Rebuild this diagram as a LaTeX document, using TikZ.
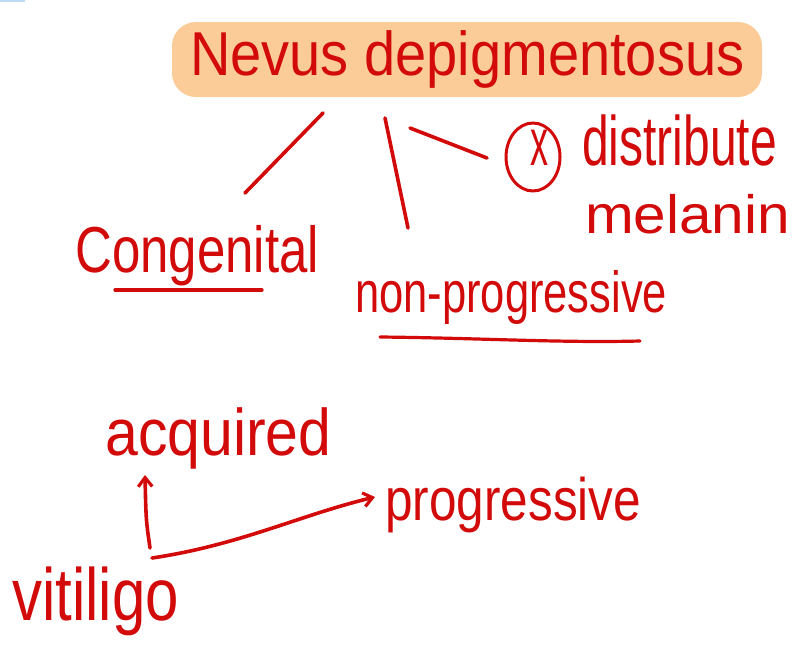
\documentclass[tikz,border=0pt]{standalone}
\usepackage{fontspec}
\setmainfont{Liberation Sans}
\usetikzlibrary{arrows.meta}
\definecolor{ink}{HTML}{D20A0A}
\definecolor{hl}{HTML}{FBCB98}
\definecolor{blueart}{HTML}{BFDDF2}
\tikzset{
  hand/.style={text=ink, inner sep=0pt, anchor=base west},
  stroke/.style={draw=ink, line width=3.6pt, line cap=round, line join=round},
  uline/.style={draw=ink, line width=3.2pt, line cap=round},
  arr/.style={stroke, -{Straight Barb[length=9pt,width=14pt,line width=3.2pt]}}
}
\begin{document}
\begin{tikzpicture}[x=1pt,y=-1pt]
\useasboundingbox (0,0) rectangle (802,651);
\fill[white] (0,0) rectangle (802,651);
\fill[blueart] (0,0) rectangle (25,2);
% highlight
\fill[hl, rounded corners=24pt] (172,22) rectangle (762,97);
% texts
\node[hand] (title) at (190,75) {\scalebox{5.6}[6.2]{Nevus depigmentosus}};
\node[hand] (distr) at (582,165) {\scalebox{4.8}[7]{distribute}};
\node[hand] (melanin) at (585,233) {\scalebox{5.85}[5.4]{melanin}};
\node[hand] (cong) at (75,272) {\scalebox{5.1}[6.5]{Congenital}};
\node[hand] (nonprog) at (355,312) {\scalebox{4.35}[5.8]{non-progressive}};
\node[hand] (acq) at (105,455) {\scalebox{5.9}[6.6]{acquired}};
\node[hand] (prog) at (385,520) {\scalebox{4.95}[6]{progressive}};
\node[hand] (vit) at (12,620) {\scalebox{6}[7.4]{vitiligo}};
\node[hand] (xmark) at (530,165) {\scalebox{3.6}[6.7]{x}};
\draw[stroke, line width=3pt] (533,157) ellipse [x radius=27, y radius=34];
% connector anchors
\coordinate (t1) at (323,113);
\coordinate (c1) at (245,193);
\coordinate (t2) at (385,118);
\coordinate (n1) at (408,228);
\coordinate (t3) at (410,128);
\coordinate (d1) at (487,158);
\draw[stroke] (t1) -- (c1);
\draw[stroke] (t2) -- (n1);
\draw[stroke] (t3) -- (d1);
% underlines
\draw[uline] (115,290) -- (262,290);
\draw[uline] (380,337) .. controls (480,338) and (560,343) .. (640,341);
% arrows
\coordinate (v1) at (150,548);
\coordinate (a1) at (145,475);
\coordinate (v2) at (152,558);
\coordinate (p1) at (375,497);
\draw[arr] (v1) .. controls (146,520) .. (a1);
\draw[arr] (v2) .. controls (240,545) and (300,515) .. (p1);
\end{tikzpicture}
\end{document}
